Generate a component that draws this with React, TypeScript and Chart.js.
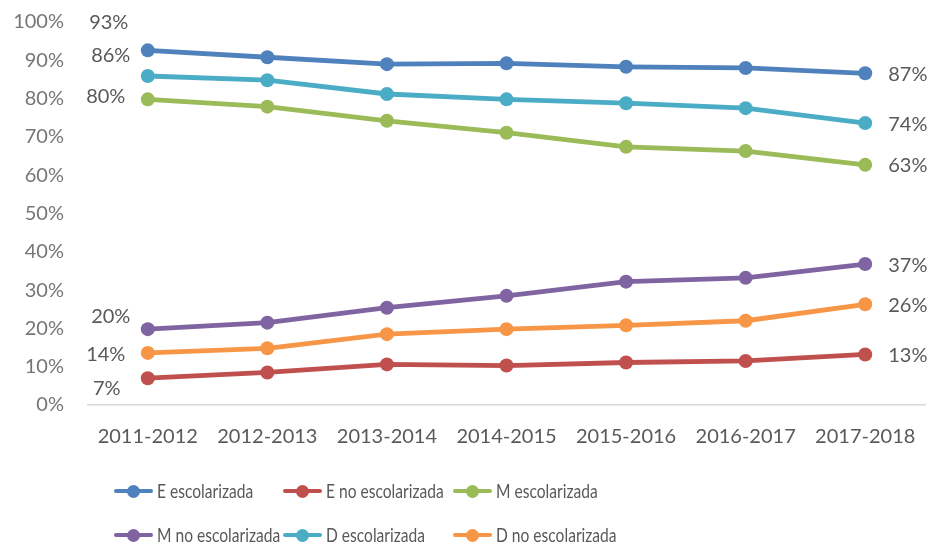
import React, { useEffect, useRef } from "react";
import { Chart, registerables } from "chart.js";

Chart.register(...registerables);

const categories = ["2011-2012", "2012-2013", "2013-2014", "2014-2015", "2015-2016", "2016-2017", "2017-2018"];
const eEscolarizada = [92.6, 90.8, 89.0, 89.2, 88.3, 88.0, 86.6];
const eNoEscolarizada = [7.0, 8.5, 10.6, 10.3, 11.1, 11.5, 13.2];
const mEscolarizada = [79.8, 77.9, 74.2, 71.1, 67.4, 66.3, 62.7];
const mNoEscolarizada = [19.8, 21.5, 25.4, 28.5, 32.2, 33.2, 36.8];
const dEscolarizada = [85.9, 84.8, 81.2, 79.8, 78.8, 77.5, 73.6];
const dNoEscolarizada = [13.6, 14.8, 18.5, 19.8, 20.8, 22.0, 26.3];

const seriesNames = ["E escolarizada", "E no escolarizada", "M escolarizada", "M no escolarizada", "D escolarizada", "D no escolarizada"];
const seriesValues = [eEscolarizada, eNoEscolarizada, mEscolarizada, mNoEscolarizada, dEscolarizada, dNoEscolarizada];
const seriesColors = ["#4F81BD", "#C0504D", "#9BBB59", "#8064A2", "#4BACC6", "#F79646"];

// label offsets (styling) for the first-point labels, relative to the point
const firstLabelOffsets = [
  [-39, -28],
  [-41, 10],
  [-42, -3],
  [-37, -13],
  [-37, -20],
  [-42, 2],
];

const FONT = "Lato, 'Open Sans', sans-serif";

const labelPlugin = {
  id: "endLabels",
  afterDatasetsDraw(chart: any) {
    const ctx = chart.ctx;
    ctx.save();
    ctx.font = `20px ${FONT}`;
    ctx.fillStyle = "#595959";
    ctx.textBaseline = "middle";
    chart.data.datasets.forEach((ds: any, i: number) => {
      const meta = chart.getDatasetMeta(i);
      const pts = meta.data;
      const first = pts[0];
      const last = pts[pts.length - 1];
      const v0 = Math.round(ds.data[0]) + "%";
      const v1 = Math.round(ds.data[ds.data.length - 1]) + "%";
      ctx.textAlign = "center";
      ctx.fillText(v0, first.x + firstLabelOffsets[i][0], first.y + firstLabelOffsets[i][1]);
      ctx.textAlign = "left";
      ctx.fillText(v1, last.x + 23, last.y + 1);
    });
    ctx.restore();
  },
};

const legendCols = [114, 283, 453];
const legendRows = [491, 535];

export default function App() {
  const ref = useRef<HTMLCanvasElement>(null);
  useEffect(() => {
    if (!ref.current) return;
    const chart = new Chart(ref.current, {
      type: "line",
      data: {
        labels: categories,
        datasets: seriesNames.map((name, i) => ({
          label: name,
          data: seriesValues[i],
          borderColor: seriesColors[i],
          backgroundColor: seriesColors[i],
          pointBackgroundColor: seriesColors[i],
          pointBorderColor: seriesColors[i],
          borderWidth: 4.8,
          pointRadius: 7,
          pointBorderWidth: 0,
          tension: 0,
          fill: false,
        })),
      },
      options: {
        animation: false,
        responsive: false,
        maintainAspectRatio: false,
        layout: { padding: { left: 0, right: 8, top: 22, bottom: 0 } },
        plugins: { legend: { display: false }, tooltip: { enabled: false } },
        scales: {
          x: {
            offset: true,
            grid: { display: false, drawTicks: false },
            border: { display: true, color: "#D9D9D9", width: 1.5 },
            ticks: { color: "#595959", font: { size: 20, family: FONT }, padding: 20, maxRotation: 0 },
            afterFit: (s: any) => {
              s.height = 143;
              s.paddingLeft = 0;
              s.paddingRight = 0;
            },
          },
          y: {
            min: 0,
            max: 100,
            grid: { display: false, drawTicks: false },
            border: { display: false },
            ticks: {
              stepSize: 10,
              color: "#767676",
              font: { size: 20, family: FONT },
              padding: 24,
              callback: (v: any) => v + "%",
            },
            afterFit: (s: any) => {
              s.width = 88;
              s.paddingTop = 0;
              s.paddingBottom = 0;
            },
          },
        },
      },
      plugins: [labelPlugin],
    });
    return () => chart.destroy();
  }, []);

  return (
    <div style={{ position: "absolute", left: 0, top: 0, width: 933, height: 548, background: "#fff", fontFamily: FONT }}>
      <canvas ref={ref} width={933} height={548} style={{ position: "absolute", left: 0, top: 0 }} />
      {seriesNames.map((name, i) => {
        const col = i % 3;
        const row = Math.floor(i / 3);
        return (
          <div
            key={name}
            style={{
              position: "absolute",
              left: legendCols[col],
              top: legendRows[row] - 12,
              height: 24,
              display: "flex",
              alignItems: "center",
              whiteSpace: "nowrap",
            }}
          >
            <div style={{ position: "relative", width: 39, height: 24, marginRight: 4 }}>
              <div style={{ position: "absolute", left: 0, top: 10, width: 39, height: 4, borderRadius: 2, background: seriesColors[i] }} />
              <div style={{ position: "absolute", left: 13, top: 5.5, width: 13, height: 13, borderRadius: 7, background: seriesColors[i] }} />
            </div>
            <span
              style={{
                display: "inline-block",
                fontSize: 19,
                color: "#595959",
                lineHeight: "24px",
                transform: "scaleX(0.82)",
                transformOrigin: "left center",
              }}
            >
              {name}
            </span>
          </div>
        );
      })}
    </div>
  );
}
